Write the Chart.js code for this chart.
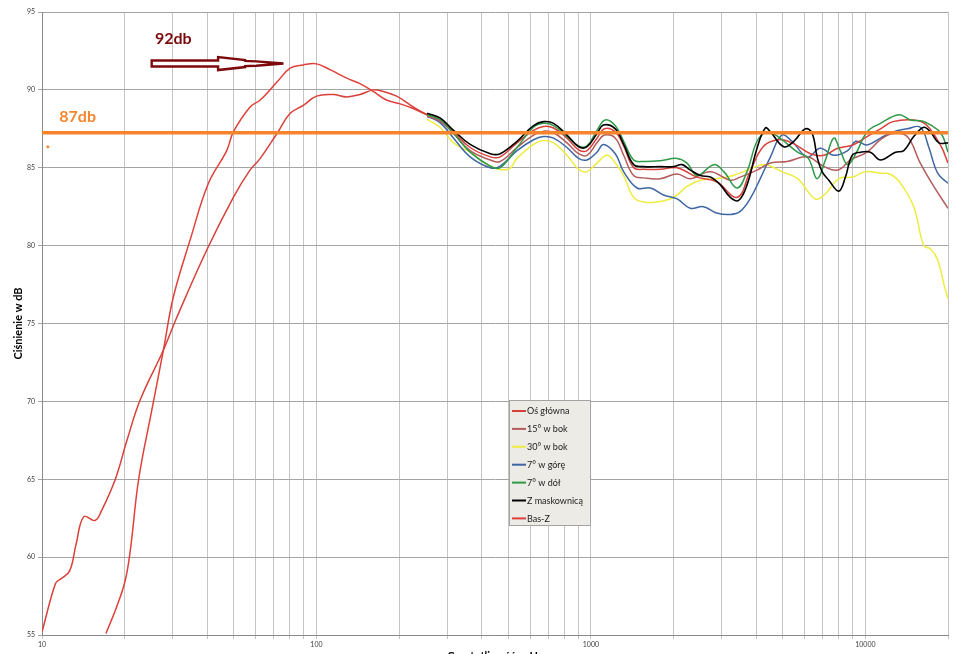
<!DOCTYPE html>
<html><head><meta charset="utf-8">
<script src="https://cdn.jsdelivr.net/npm/chart.js@4.4.1/dist/chart.umd.min.js"></script>
<style>
html,body{margin:0;padding:0;background:#fff;overflow:hidden;}
#wrap{position:relative;width:969px;height:663px;}
</style></head>
<body><div id="wrap"><canvas id="c"></canvas></div>
<script>
// ---------- data ----------
const xGridValues = [10,20,30,40,50,60,70,80,90,100,200,300,400,500,600,700,800,900,1000,2000,3000,4000,5000,6000,7000,8000,9000,10000,20000];
const xTickLabels = [10,100,1000,10000];

const seriesNames = ['Oś główna','15° w bok','30° w bok','7° w górę','7° w dół','Z maskownicą','Bas-Z'];

const osFreq = [10,11.2,11.7,12.6,13.3,14.2,15.6,16.5,18.5,20.4,22.8,27.7,31,39.8,49.8,57,62.4,71.8,80.2,89.5,100,115,129,144,161,171,196,225,253,282,316,363,430,467,538,618,672,731,818,902,968,1052,1120,1227,1316,1431,1557,1791,2060,2436,2870,3410,3800,4240,4800,5400,6310,7080,7930,9000,10140,11350,12600,15000,16700,18900,20000];
const osDb   = [55.2,58.3,58.6,59.1,60.8,62.6,62.35,63.0,65.0,67.5,70.1,73.3,75.4,79.7,83.1,84.8,85.6,87.2,88.5,89.0,89.6,89.7,89.55,89.7,90.0,89.95,89.6,88.9,88.4,88.1,87.3,86.3,85.7,85.7,86.6,87.4,87.65,87.55,86.9,86.15,86.1,86.9,87.5,87.3,86.4,85.0,84.9,84.9,85.0,84.4,84.1,83.1,84.75,86.35,86.8,86.6,85.9,85.8,86.25,86.46,87.0,87.5,87.96,88.07,87.75,86.35,85.3];

const b15Freq = [253,282,316,363,430,467,538,618,672,731,818,902,968,1052,1120,1227,1316,1431,1557,1791,2060,2300,2724,3221,3500,4030,4510,5190,6140,7080,7930,8830,10140,11350,12600,14200,15850,17750,20000];
const b15Db   = [88.3,88.0,87.2,86.1,85.5,85.4,86.3,87.1,87.35,87.25,86.6,85.9,85.8,86.6,87.1,86.9,85.8,84.5,84.35,84.3,84.6,84.3,84.75,84.2,84.4,84.85,85.3,85.4,85.7,85.07,84.85,85.5,86.0,86.8,87.2,87.0,85.3,83.8,82.4];

const b30Freq = [253,282,316,363,430,500,538,618,672,731,818,902,968,1052,1145,1227,1316,1431,1557,1737,2003,2240,2506,2870,3300,3900,4320,4960,5660,6560,7080,8020,9000,10000,11350,12280,13430,15000,16320,17250,18340,19400,20000];
const b30Db   = [88.1,87.6,86.6,86.0,85.1,84.9,85.6,86.5,86.75,86.6,85.8,84.9,84.75,85.3,85.8,85.3,84.5,83.1,82.8,82.8,83.1,83.8,84.2,84.3,84.5,85.0,85.2,84.75,84.3,83.0,83.25,84.3,84.4,84.75,84.65,84.6,84.0,82.5,80.0,79.8,79.1,77.4,76.6];

const upFreq = [253,282,316,363,430,467,538,618,672,731,818,902,968,1052,1112,1227,1316,1473,1647,1840,2060,2300,2570,2870,3221,3500,3800,4140,4510,4960,5400,6140,6850,7670,8620,9230,10140,11350,12600,14200,15850,17000,18340,20000];
const upDb   = [88.3,87.9,86.9,85.7,85.0,85.1,86.1,86.8,87.0,86.9,86.3,85.6,85.5,86.0,86.5,85.9,84.75,83.7,83.7,83.25,83.0,82.4,82.5,82.1,82.0,82.2,83.0,84.3,85.7,87.1,86.7,85.7,86.25,85.8,86.1,86.7,86.46,86.9,87.3,87.5,87.6,86.35,84.65,84.0];

const downFreq = [253,282,316,363,430,467,538,618,672,731,818,902,968,1052,1127,1227,1316,1431,1557,1791,2060,2240,2436,2805,3050,3410,3705,4030,4385,4800,5660,6200,6670,7150,7670,8100,8620,9230,10140,11350,13250,14600,16100,17250,18900,20000];
const downDb   = [88.4,88.1,87.2,86.0,85.1,85.0,86.3,87.6,87.85,87.7,87.0,86.4,86.4,87.4,88.07,87.7,86.7,85.5,85.4,85.45,85.6,85.3,84.5,85.2,84.75,83.7,84.75,86.7,87.3,87.0,86.0,85.6,84.3,85.5,86.9,86.1,85.2,85.9,87.3,87.85,88.4,88.07,88.0,87.75,87.2,86.0];

const maskFreq = [253,282,316,363,430,467,538,618,672,731,818,902,968,1052,1112,1227,1316,1431,1557,1791,2003,2149,2303,2506,2724,2962,3221,3453,3705,4030,4320,4510,5045,5486,6050,6400,6670,6955,7360,8000,8460,8950,9590,10430,11350,12870,13800,15000,16320,17260,18520,20000];
const maskDb   = [88.5,88.2,87.4,86.5,85.9,85.9,86.7,87.7,87.96,87.85,87.1,86.35,86.35,87.2,87.75,87.5,86.5,85.2,85.07,85.07,85.07,85.2,84.85,84.5,84.4,83.9,83.1,82.9,83.9,86.25,87.55,87.3,86.35,86.7,87.5,87.2,85.7,84.75,84.2,83.5,84.4,85.8,86.0,86.0,85.5,86.0,86.1,87.0,87.6,87.3,86.6,86.6];

const basFreq = [17.1,18.7,20.1,21,22.5,25.1,27.7,30.1,34.7,40.4,47.1,49.8,57.3,62.4,71.8,80.2,89.5,100,112,129,144,161,180,202,225,253];
const basDb   = [55.1,56.8,58.5,60.5,65,69.4,73.3,76.7,80.4,84,86.1,87.3,88.9,89.35,90.5,91.4,91.6,91.67,91.3,90.75,90.4,89.9,89.35,89.1,88.8,88.4];

const refFreq = [10,20000];
const refDb   = [87.25,87.25];

// annotation anchors in data space (Hz, dB)
const label92 = {text:'92db', hz:25.8, db:93.3};
const label87 = {text:'87db', hz:11.56, db:88.25};
const arrowTailHz = 25.1, arrowTipHz = 75.8, arrowDb = 91.69;
const dotHz = 10.5, dotDb = 86.35;

// ---------- build ----------
const pts = (f, d) => f.map((v, i) => ({x: v, y: d[i]}));
const colors = {
  'Oś główna':'#d8403a','15° w bok':'#b45c5c','30° w bok':'#eeec40','7° w górę':'#3d66a3',
  '7° w dół':'#2f9a48','Z maskownicą':'#000000','Bas-Z':'#e0403a'
};
const mk = (name, f, d, w) => ({label:name, data:pts(f,d), borderColor:colors[name], backgroundColor:colors[name], borderWidth:w||1.5, pointRadius:0, fill:false, tension:0.4});

const datasets = [
  {label:'ref', data:pts(refFreq, refDb), borderColor:'#f7832b', borderWidth:3.5, pointRadius:0, fill:false, tension:0},
  mk('Z maskownicą', maskFreq, maskDb, 1.6),
  mk('7° w dół', downFreq, downDb),
  mk('Oś główna', osFreq, osDb),
  mk('15° w bok', b15Freq, b15Db),
  mk('7° w górę', upFreq, upDb),
  mk('30° w bok', b30Freq, b30Db),
  mk('Bas-Z', basFreq, basDb)
];

const annotPlugin = {
  id:'annot',
  afterDatasetsDraw(chart){
    const {ctx, scales:{x, y}} = chart;
    ctx.save();
    const tx = x.getPixelForValue(arrowTailHz), hx = x.getPixelForValue(arrowTipHz), cy = y.getPixelForValue(arrowDb);
    const L = hx - tx, X = t => tx + t*L;
    ctx.beginPath();
    ctx.moveTo(tx, cy-3); ctx.lineTo(X(0.504), cy-3); ctx.lineTo(X(0.504), cy-6.5);
    ctx.lineTo(X(0.709), cy-3.5); ctx.lineTo(X(0.709), cy-2.6); ctx.lineTo(X(0.793), cy-2.2);
    ctx.lineTo(hx, cy); ctx.lineTo(X(0.793), cy+2.2); ctx.lineTo(X(0.709), cy+2.6);
    ctx.lineTo(X(0.709), cy+3.5); ctx.lineTo(X(0.504), cy+6.5); ctx.lineTo(X(0.504), cy+3);
    ctx.lineTo(tx, cy+3); ctx.closePath();
    ctx.fillStyle = '#ffffff'; ctx.fill();
    ctx.strokeStyle = '#7c0a0c'; ctx.lineWidth = 2.4; ctx.lineJoin = 'miter'; ctx.stroke();
    ctx.font = 'bold 16px Lato'; ctx.textBaseline = 'middle'; ctx.textAlign = 'left';
    ctx.fillStyle = '#7c0a0c';
    ctx.fillText(label92.text, x.getPixelForValue(label92.hz), y.getPixelForValue(label92.db));
    ctx.fillStyle = '#f5862f';
    ctx.fillText(label87.text, x.getPixelForValue(label87.hz), y.getPixelForValue(label87.db));
    ctx.beginPath();
    ctx.arc(x.getPixelForValue(dotHz), y.getPixelForValue(dotDb), 1.5, 0, Math.PI*2);
    ctx.fillStyle = '#f5862f'; ctx.fill();
    ctx.restore();
  }
};

const legendPlugin = {
  id:'boxLegend',
  afterDraw(chart){
    const ctx = chart.ctx;
    const bx = 509, by = 400, bw = 81, bh = 125;
    ctx.save();
    ctx.fillStyle = '#ecebe6'; ctx.fillRect(bx, by, bw, bh);
    ctx.strokeStyle = '#a3a3a3'; ctx.lineWidth = 1; ctx.strokeRect(bx+0.5, by+0.5, bw, bh);
    ctx.font = '9px Lato'; ctx.textBaseline = 'middle'; ctx.textAlign = 'left';
    seriesNames.forEach((name, i) => {
      const ds = chart.data.datasets.find(d => d.label === name);
      const yy = by + 11 + i*17.9;
      ctx.strokeStyle = ds.borderColor; ctx.lineWidth = 2;
      ctx.beginPath(); ctx.moveTo(bx+3, yy); ctx.lineTo(bx+17, yy); ctx.stroke();
      ctx.fillStyle = '#1a1a1a';
      ctx.fillText(name, bx+18, yy+0.5);
    });
    ctx.restore();
  }
};

new Chart(document.getElementById('c'), {
  type:'line',
  data:{datasets},
  options:{
    responsive:true, maintainAspectRatio:false, animation:false,
    layout:{padding:{left:0, right:21, top:12, bottom:0}},
    plugins:{legend:{display:false}, tooltip:{enabled:false}},
    scales:{
      x:{
        type:'logarithmic', min:10, max:20000,
        afterBuildTicks: s => { s.ticks = xGridValues.map(v => ({value:v})); },
        afterFit: s => { s.height = 28; },
        ticks:{autoSkip:false, maxRotation:0, padding:2, color:'#404040', font:{family:'Lato', size:7},
          callback: v => xTickLabels.includes(v) ? String(v) : ''},
        grid:{color:'#c4c4c4', tickLength:4, lineWidth:1},
        border:{color:'#8a8a8a'},
        title:{display:true, text:'Częstotliwość w Hz', color:'#000', font:{family:'Lato', size:11, weight:'bold'}, padding:0}
      },
      y:{
        min:55, max:95,
        afterFit: s => { s.width = 42; },
        ticks:{stepSize:5, padding:3, color:'#404040', font:{family:'Lato', size:7}},
        grid:{color:'#a4a4a4', tickLength:4, lineWidth:1},
        border:{color:'#8a8a8a'},
        title:{display:true, text:'Ciśnienie w dB', color:'#000', font:{family:'Lato', size:11, weight:'bold'}, padding:{top:12, bottom:0}}
      }
    }
  },
  plugins:[annotPlugin, legendPlugin]
});
</script>
</body></html>
